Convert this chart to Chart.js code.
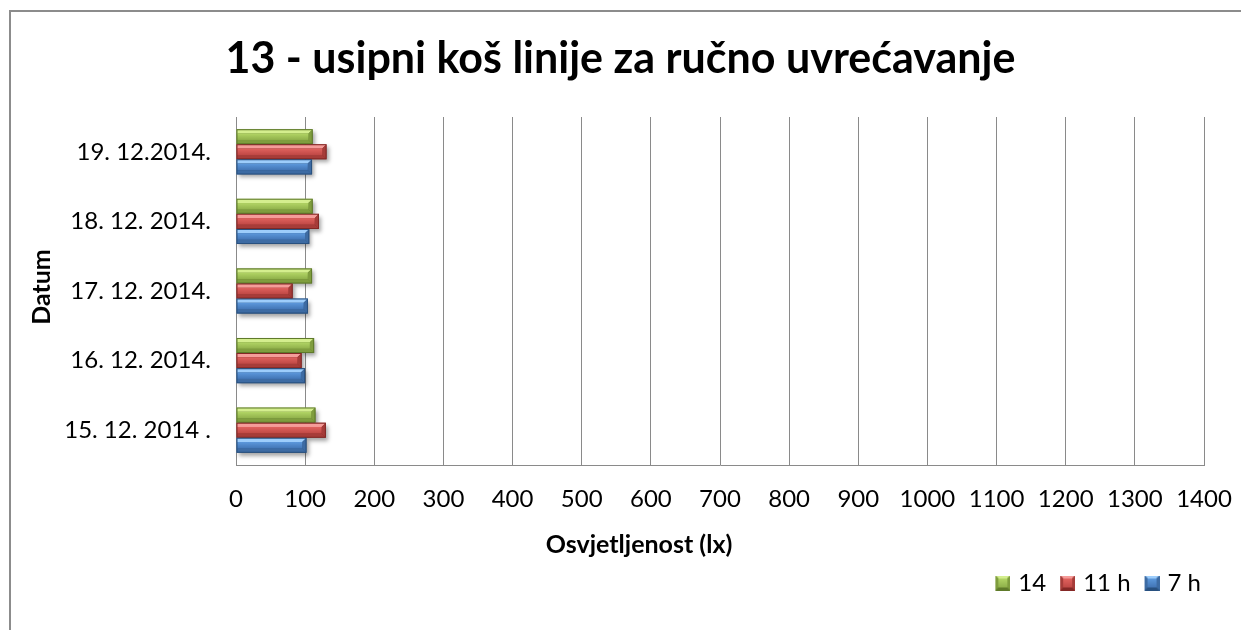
<!DOCTYPE html>
<html>
<head>
<meta charset="utf-8">
<script src="https://cdn.jsdelivr.net/npm/chart.js@4/dist/chart.umd.min.js"></script>
<style>
  html, body { margin: 0; padding: 0; background: #ffffff; }
  #wrap { width: 1241px; height: 630px; position: relative; }
</style>
</head>
<body>
<div id="wrap"><canvas id="c" width="1241" height="630"></canvas></div>
<script>
// ---- data ----
const categories = ['15. 12. 2014 .', '16. 12. 2014.', '17. 12. 2014.', '18. 12. 2014.', '19. 12.2014.'];
const seriesNames = ['14', '11 h', '7 h'];
const values14 = [115, 113, 110, 111, 111];
const values11h = [130, 95, 82, 120, 131];
const values7h = [102, 100, 104, 106, 110];
const xTicksMin = 0;
const xTicksMax = 1400;
const xTickStep = 100;
const titleText = '13 - usipni koš linije za ručno uvrećavanje';
const xTitleText = 'Osvjetljenost (lx)';
const yTitleText = 'Datum';

// ---- styles ----
const palettes = [
  { base: '#9bbb59', light: '#d4ee8e', dark: '#5f7a2a', mid: '#7f9d3e', faceTop: '#b2d565', faceBot: '#8fb04a' },
  { base: '#c0504d', light: '#f59c99', dark: '#842826', mid: '#a63c39', faceTop: '#e0625e', faceBot: '#bf4845' },
  { base: '#4f81bd', light: '#9dcdfb', dark: '#28507f', mid: '#3d6ba3', faceTop: '#5c98dc', faceBot: '#4275b5' }
];
const FONT = 'Lato, "Open Sans", sans-serif';
const GRID = '#8a8a8a';

function legendSwatch(p) {
  const s = 15, off = 8, c = document.createElement('canvas');
  c.width = s + off; c.height = s;
  const g = c.getContext('2d');
  g.translate(off, 0);
  g.fillStyle = p.dark; g.fillRect(0, 0, s, s);
  const b = 3;
  g.fillStyle = p.light;
  g.beginPath(); g.moveTo(0, 0); g.lineTo(s, 0); g.lineTo(s - b, b); g.lineTo(b, b); g.closePath(); g.fill();
  g.fillStyle = p.mid;
  g.beginPath(); g.moveTo(0, 0); g.lineTo(b, b); g.lineTo(b, s - b); g.lineTo(0, s); g.closePath(); g.fill();
  g.beginPath(); g.moveTo(s, 0); g.lineTo(s, s); g.lineTo(s - b, s - b); g.lineTo(s - b, b); g.closePath(); g.fill();
  const gr = g.createLinearGradient(0, b, 0, s - b);
  gr.addColorStop(0, p.faceTop); gr.addColorStop(1, p.faceBot);
  g.fillStyle = gr; g.fillRect(b, b, s - 2 * b, s - 2 * b);
  return c;
}
const swatches = palettes.map(legendSwatch);

function poly(ctx, pts, fill) {
  ctx.fillStyle = fill;
  ctx.beginPath();
  ctx.moveTo(pts[0][0], pts[0][1]);
  for (let i = 1; i < pts.length; i++) ctx.lineTo(pts[i][0], pts[i][1]);
  ctx.closePath();
  ctx.fill();
}

const bevelBars = {
  id: 'bevelBars',
  afterDatasetsDraw(chart) {
    const ctx = chart.ctx;
    const metas = chart.data.datasets.map((d, i) => chart.getDatasetMeta(i));
    ctx.save();
    metas.forEach((meta, di) => {
      const p = palettes[di];
      meta.data.forEach(el => {
        const x0 = Math.min(el.base, el.x), x1 = Math.max(el.base, el.x);
        const top = el.y - el.height / 2;
        ctx.save();
        ctx.shadowColor = 'rgba(0,0,0,0.35)';
        ctx.shadowBlur = 4;
        ctx.shadowOffsetX = 2;
        ctx.shadowOffsetY = 3;
        ctx.fillStyle = p.dark;
        ctx.fillRect(x0, top, x1 - x0, el.height);
        ctx.restore();
      });
    });
    metas.forEach((meta, di) => {
      const p = palettes[di];
      meta.data.forEach(el => {
        const x0 = Math.min(el.base, el.x) + 1, x1 = Math.max(el.base, el.x) - 1;
        const top = el.y - el.height / 2 + 1, bot = el.y + el.height / 2 - 1;
        const b = Math.min(3.5, (bot - top) / 4);
        poly(ctx, [[x0, top], [x1, top], [x1 - b, top + b], [x0, top + b]], p.light);
        poly(ctx, [[x0, bot], [x1, bot], [x1 - b, bot - b], [x0, bot - b]], p.mid);
        poly(ctx, [[x1, top], [x1, bot], [x1 - b, bot - b], [x1 - b, top + b]], p.mid);
        const gr = ctx.createLinearGradient(0, top + b, 0, bot - b);
        gr.addColorStop(0, p.faceTop);
        gr.addColorStop(1, p.faceBot);
        ctx.fillStyle = gr;
        ctx.fillRect(x0, top + b, x1 - b - x0, bot - top - 2 * b);
      });
    });
    ctx.restore();
  }
};

const decorations = {
  id: 'decorations',
  beforeDraw(chart) {
    const ctx = chart.ctx;
    ctx.save();
    ctx.fillStyle = '#ffffff';
    ctx.fillRect(0, 0, chart.width, chart.height);
    ctx.strokeStyle = '#8c8c8c';
    ctx.lineWidth = 2;
    ctx.strokeRect(10, 11, chart.width + 20, chart.height + 20);
    ctx.restore();
  },
  afterDraw(chart) {
    const ctx = chart.ctx;
    const area = chart.chartArea;
    ctx.save();
    ctx.fillStyle = '#000000';
    ctx.textAlign = 'center';
    ctx.textBaseline = 'alphabetic';
    ctx.font = 'bold 43px ' + FONT;
    ctx.fillText(titleText, chart.width / 2, 73);
    ctx.font = 'bold 25px ' + FONT;
    ctx.textBaseline = 'middle';
    ctx.fillText(xTitleText, 639, 545);
    ctx.translate(42, (area.top + area.bottom) / 2 - 4);
    ctx.rotate(-Math.PI / 2);
    ctx.fillText(yTitleText, 0, 0);
    ctx.restore();
  }
};

new Chart(document.getElementById('c'), {
  type: 'bar',
  data: {
    labels: categories,
    datasets: [
      { label: seriesNames[0], data: values14, backgroundColor: palettes[0].base },
      { label: seriesNames[1], data: values11h, backgroundColor: palettes[1].base },
      { label: seriesNames[2], data: values7h, backgroundColor: palettes[2].base }
    ]
  },
  options: {
    indexAxis: 'y',
    responsive: false,
    animation: false,
    devicePixelRatio: 1,
    datasets: { bar: { categoryPercentage: 0.65, barPercentage: 1.0, borderWidth: 0 } },
    layout: { padding: { left: 10, right: 30, top: 117, bottom: 25 } },
    plugins: {
      title: { display: false },
      tooltip: { enabled: false },
      legend: {
        display: true,
        position: 'bottom',
        align: 'end',
        labels: {
          color: '#000000',
          font: { family: FONT, size: 24 },
          usePointStyle: true,
          boxHeight: 15,
          pointStyleWidth: 15,
          padding: 10,
          generateLabels(chart) {
            return chart.data.datasets.map((d, i) => ({
              text: d.label,
              fillStyle: palettes[i].base,
              strokeStyle: palettes[i].base,
              lineWidth: 0,
              pointStyle: swatches[i],
              hidden: false,
              datasetIndex: i
            }));
          }
        }
      }
    },
    scales: {
      x: {
        type: 'linear',
        min: xTicksMin,
        max: xTicksMax,
        ticks: {
          stepSize: xTickStep, color: '#000000', font: { family: FONT, size: 24 }, padding: 20, maxRotation: 0,
          callback: (v) => String(v)
        },
        grid: { color: GRID, lineWidth: 1, drawTicks: false },
        border: { display: true, color: GRID, width: 1 },
        afterFit(scale) { scale.height = 96; scale.paddingRight = 37; scale.paddingLeft = 0; }
      },
      y: {
        type: 'category',
        reverse: true,
        ticks: { color: '#000000', font: { family: FONT, size: 24 }, padding: 25 },
        grid: { display: false, drawTicks: false },
        border: { display: true, color: GRID, width: 1 },
        afterFit(scale) { scale.width = 226; }
      }
    }
  },
  plugins: [decorations, bevelBars]
});
</script>
</body>
</html>
